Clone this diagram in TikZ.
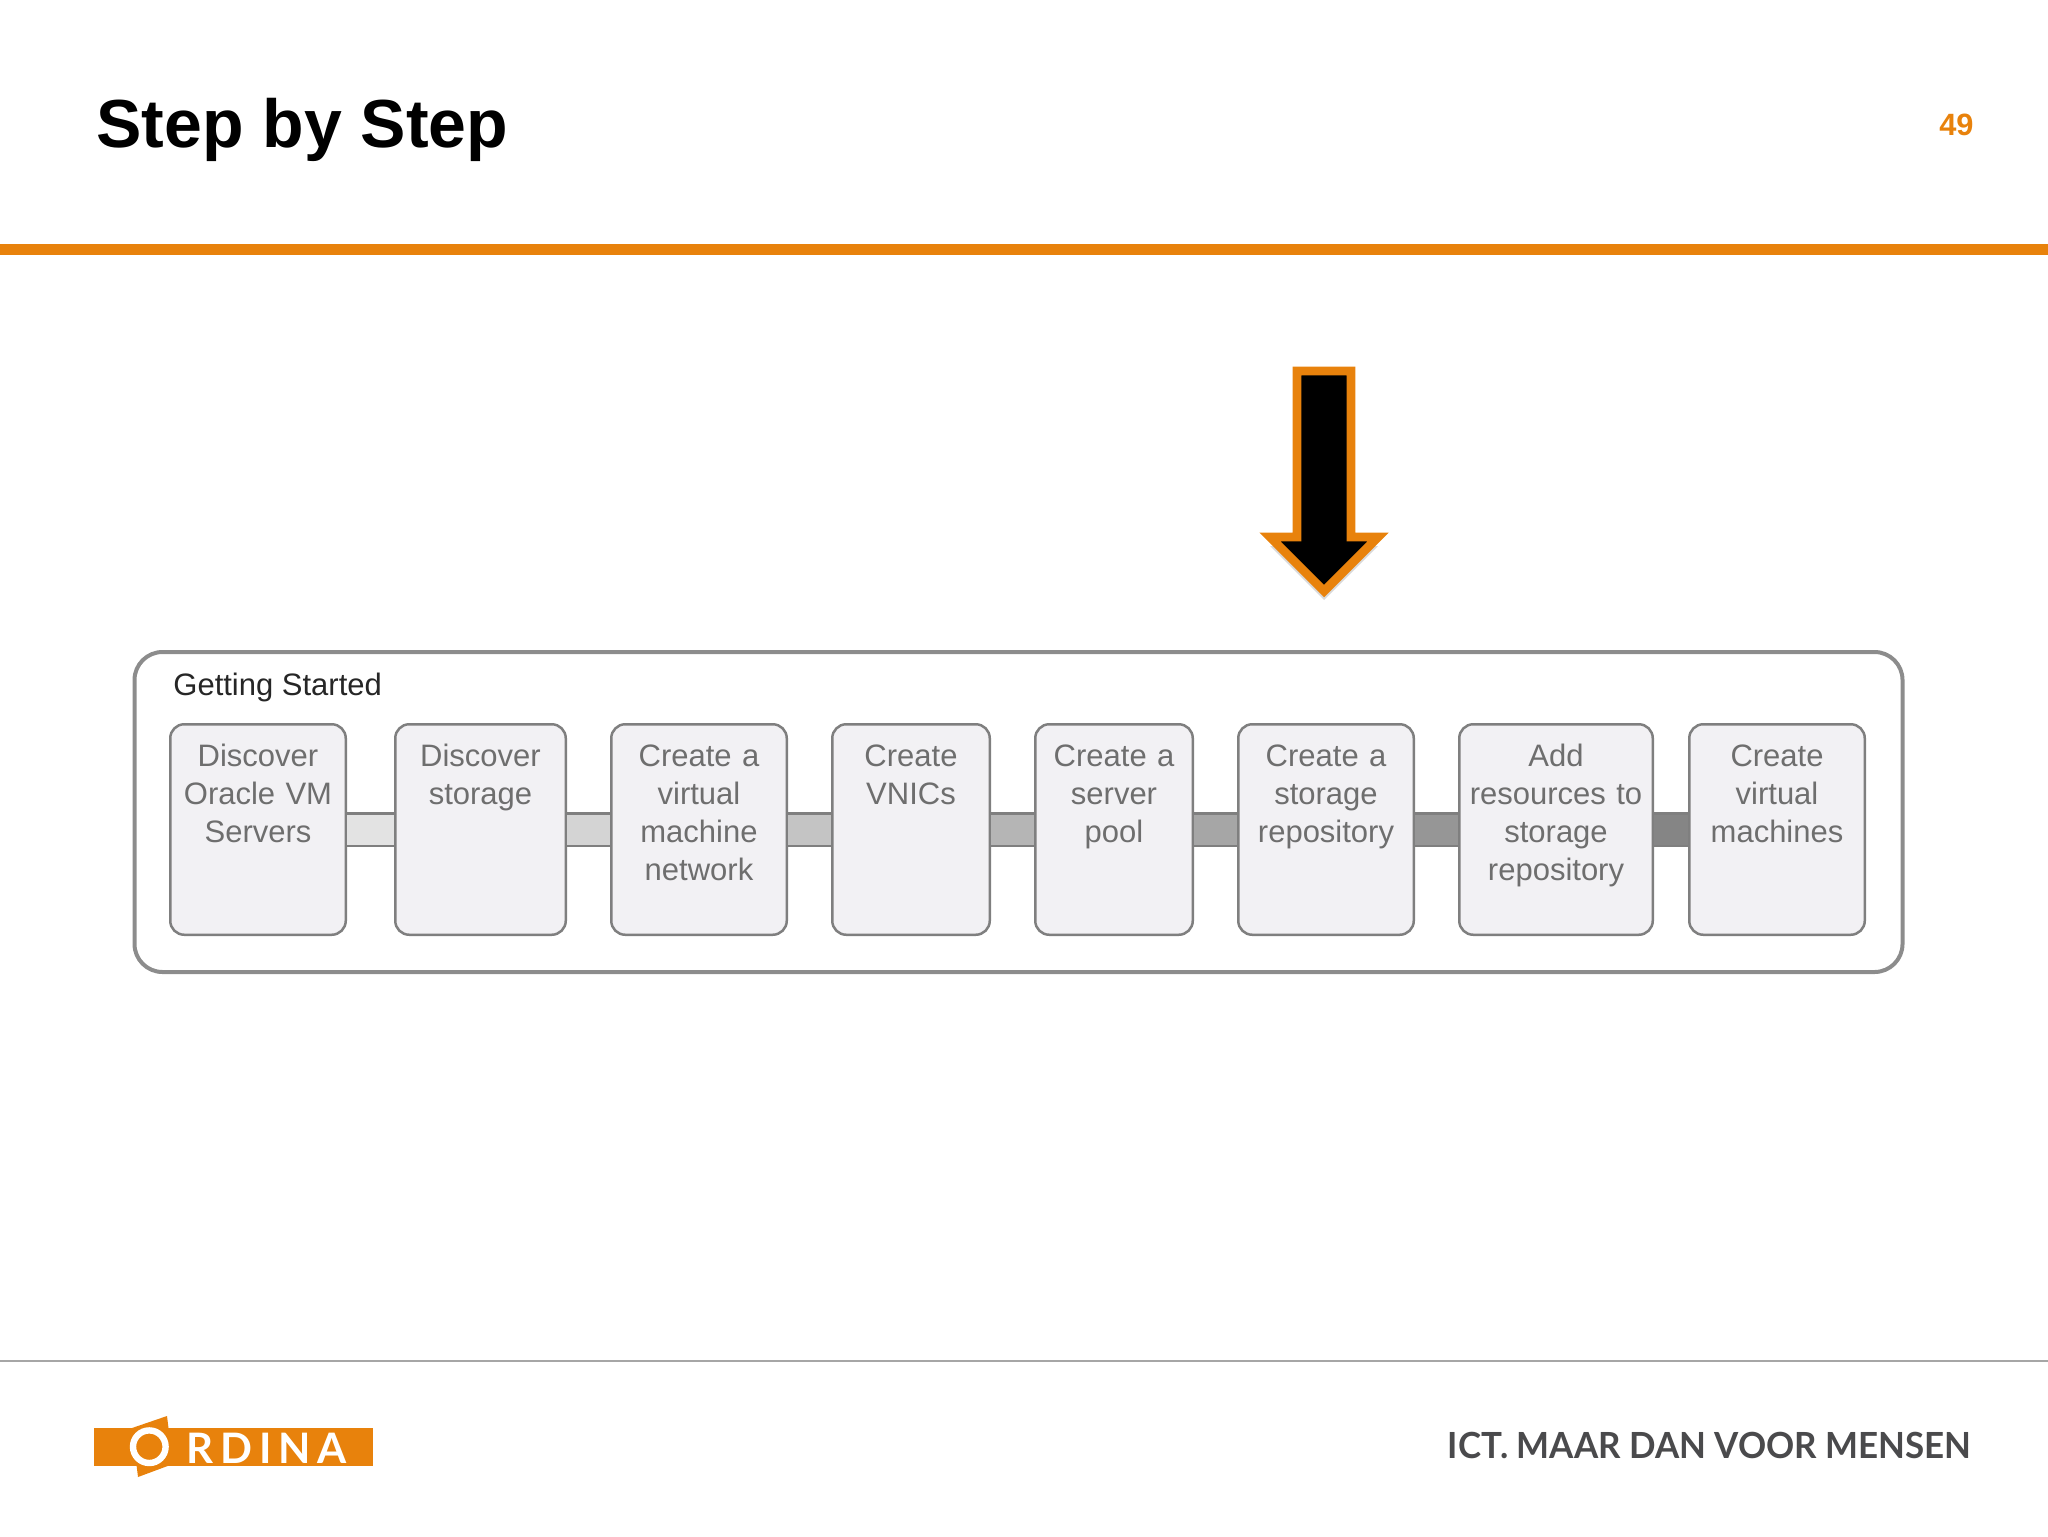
\documentclass[tikz,border=0pt]{standalone}
\usepackage{fontspec}
\setmainfont{Liberation Sans}
\newfontfamily\logofont[LetterSpace=16.5]{Lato Bold}
\newfontfamily\claimfont[FakeStretch=0.97]{Lato Bold}
\usetikzlibrary{positioning, shadows}
\definecolor{OrdinaOrange}{HTML}{E8820C}
\definecolor{StepLine}{HTML}{7F7F7F}
\definecolor{StepFill}{HTML}{F2F1F4}
\definecolor{StepText}{HTML}{6E6E6E}
\definecolor{ClaimGrey}{HTML}{4A4A4C}

\begin{document}
\begin{tikzpicture}[x=0.5pt, y=-0.5pt,
        stepbox/.style={rectangle, draw=StepLine, fill=StepFill, line width=1.25pt, rounded corners=7pt, inner xsep=0pt, inner ysep=0pt, align=center, text=StepText, text height=20.9pt, text depth=84.35pt, font=\fontsize{15.5}{19}\selectfont},
        linkbar/.style={draw=StepLine, line width=1.25pt, double distance=15pt},
        groupbox/.style={rectangle, draw=StepLine!90, line width=2pt, rounded corners=14pt, minimum width=884pt, minimum height=160pt},
        grouplabel/.style={anchor=base west, inner sep=0pt, text=black!85, font=\fontsize{15.5}{19}\selectfont},
        rulebar/.style={line width=5.25pt, OrdinaOrange}]

        \useasboundingbox (0,0) rectangle (2048,1536);

        \node[anchor=base west, inner sep=0pt, font=\fontsize{34}{40}\selectfont\bfseries] (title) at (96,148) {Step by Step};
        \node[anchor=base east, inner sep=0pt, text=OrdinaOrange, font=\fontsize{15.4}{18}\selectfont\bfseries] (page) at (1974,135) {49};
        \coordinate (ruleleft) at (0,249.5);
        \coordinate (ruleright) at (2048,249.5);
        \draw[rulebar] (ruleleft) -- (ruleright);

        \draw[OrdinaOrange, line width=4.4pt, miter limit=10, fill=black, drop shadow={shadow xshift=0pt, shadow yshift=-4.5pt, opacity=0.3}]
            (1297,371) -- (1351,371) -- (1351,537) -- (1378,537) -- (1324,591) -- (1270,537) -- (1297,537) -- cycle;

        \node[groupbox] (group) at (1018.5,812) {};
        \node[grouplabel] (gettingstarted) at (173,695) {Getting Started};

        \node[stepbox, text width=87.75pt, anchor=north west] (servers) at (169,723) {Discover\\Oracle VM\\Servers};
        \node[stepbox, text width=85.25pt, right=23.5pt of servers] (storage) {Discover\\storage};
        \node[stepbox, text width=87.75pt, right=21.5pt of storage] (network) {Create a\\virtual\\machine\\network};
        \node[stepbox, text width=78.75pt, right=21.5pt of network] (vnics) {Create\\VNICs};
        \node[stepbox, text width=78.75pt, right=21.5pt of vnics] (pool) {Create a\\server\\pool};
        \node[stepbox, text width=87.75pt, right=21.5pt of pool] (repository) {Create a\\storage\\repository};
        \node[stepbox, text width=96.75pt, right=21.5pt of repository] (resources) {Add\\resources to\\storage\\repository};
        \node[stepbox, text width=87.75pt, right=17pt of resources] (machines) {Create\\virtual\\machines};

        \draw[linkbar, double=black!11] (servers) -- (storage);
        \draw[linkbar, double=black!17] (storage) -- (network);
        \draw[linkbar, double=black!23] (network) -- (vnics);
        \draw[linkbar, double=black!29] (vnics) -- (pool);
        \draw[linkbar, double=black!35] (pool) -- (repository);
        \draw[linkbar, double=black!41] (repository) -- (resources);
        \draw[linkbar, double=black!48] (resources) -- (machines);

        \coordinate (footleft) at (0,1361);
        \coordinate (footright) at (2048,1361);
        \draw[black!35, line width=0.6pt] (footleft) -- (footright);

        \fill[OrdinaOrange] (94,1428) rectangle (373,1466);
        \fill[OrdinaOrange] (132,1428) -- (167,1416) -- (173,1464) -- (138,1477) -- cycle;
        \draw[white, line width=3.2pt] (149.3,1446.7) circle (16.3);
        \node[anchor=base west, inner sep=0pt, text=white, font=\fontsize{21}{24}\selectfont\logofont] (ordina) at (186,1463) {RDINA};

        \node[anchor=base east, inner sep=0pt, text=ClaimGrey, font=\fontsize{18}{22}\selectfont\claimfont] (claim) at (1972,1458) {ICT. MAAR DAN VOOR MENSEN};
\end{tikzpicture}
\end{document}
